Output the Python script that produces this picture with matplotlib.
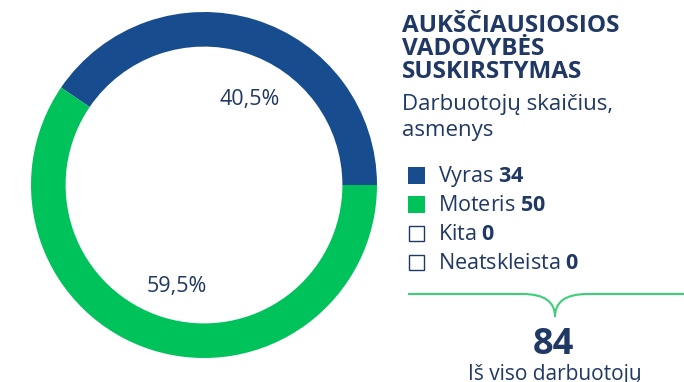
import numpy as np
import matplotlib.pyplot as plt
from matplotlib.patches import Rectangle
from matplotlib.path import Path
from matplotlib.patches import PathPatch

plt.rcParams['font.family'] = ['Open Sans', 'DejaVu Sans']
plt.rcParams['mathtext.fontset'] = 'custom'
plt.rcParams['mathtext.rm'] = 'Open Sans'
plt.rcParams['mathtext.bf'] = 'Open Sans:bold'

# duomenys
kategorijos = ['Vyras', 'Moteris', 'Kita', 'Neatskleista']
reiksmes = [34, 50, 0, 0]
spalvos = ['#174c8f', '#00c25a', 'white', 'white']
pavadinimas = ['AUKŠČIAUSIOSIOS', 'VADOVYBĖS', 'SUSKIRSTYMAS']
paantraste = ['Darbuotojų skaičius,', 'asmenys']
viso_tekstas = 'Iš viso darbuotojų'

TEXT = '#1f3864'
LINE = '#3ccf78'

fig = plt.figure(figsize=(6.84, 3.82), dpi=100)

# žiedinė diagrama
ax = fig.add_axes([31 / 684, 24 / 382, 346 / 684, 346 / 382])
nz = [(v, c) for v, c in zip(reiksmes, spalvos) if v > 0]
wedges, texts, autotexts = ax.pie(
    [v for v, _ in nz], colors=[c for _, c in nz], startangle=0,
    counterclock=True, radius=1,
    wedgeprops=dict(width=0.2, edgecolor='none'),
    autopct=lambda p: f'{p:.1f}%'.replace('.', ','), pctdistance=0.6,
    textprops=dict(color=TEXT, fontsize=15.5))

# procentų etiketės šiek tiek pastumtos nuo sektoriaus vidurio
lab_r = [0.56, 0.61]
lab_d = [-11, 2]
for w, t, r, d in zip(wedges, autotexts, lab_r, lab_d):
    a = np.deg2rad((w.theta1 + w.theta2) / 2 + d)
    t.set_position((r * np.cos(a), r * np.sin(a)))

ax.set_xlim(-1, 1)
ax.set_ylim(-1, 1)
ax.set_aspect('equal')
ax.axis('off')

# tekstai dešinėje, pikselių koordinatės
ov = fig.add_axes([0, 0, 1, 1])
ov.set_xlim(0, 684)
ov.set_ylim(382, 0)
ov.axis('off')

for i, eil in enumerate(pavadinimas):
    ov.text(402, 32 + i * 23, eil, fontsize=17.5, fontweight='bold', color=TEXT,
            va='baseline', ha='left')
for i, eil in enumerate(paantraste):
    ov.text(402, 110 + i * 26, eil, fontsize=16, color=TEXT, va='baseline', ha='left')

y0, dy = 175, 29
for i, (k, v, c) in enumerate(zip(kategorijos, reiksmes, spalvos)):
    yc = y0 + i * dy
    if v > 0:
        ov.add_patch(Rectangle((408, yc - 8), 17, 17, facecolor=c, edgecolor='none'))
    else:
        ov.add_patch(Rectangle((409, yc - 7.5), 15, 15, facecolor='white',
                               edgecolor=TEXT, lw=1.0))
    ov.text(438, yc + 7, k + ' $\\mathbf{' + str(v) + '}$', fontsize=15.5,
            color=TEXT, va='baseline', ha='left')

# skliaustas
cx, yl, tip = 555, 294, 317
verts = [(408, yl), (522, yl), (522, yl), (545, yl), (555, yl + 8), (555, tip),
         (555, yl + 8), (565, yl), (588, yl), (588, yl), (690, yl)]
codes = [Path.MOVETO, Path.LINETO, Path.LINETO, Path.CURVE4, Path.CURVE4, Path.CURVE4,
         Path.CURVE4, Path.CURVE4, Path.CURVE4, Path.LINETO, Path.LINETO]
ov.add_patch(PathPatch(Path(verts, codes), facecolor='none', edgecolor=LINE, lw=1.5))

ov.text(cx - 2, 354, str(sum(reiksmes)), fontsize=26, fontweight='bold', color=TEXT,
        ha='center', va='baseline')
ov.text(cx, 380, viso_tekstas, fontsize=15, color=TEXT, ha='center', va='baseline')

fig.savefig('out.png', dpi=100)
